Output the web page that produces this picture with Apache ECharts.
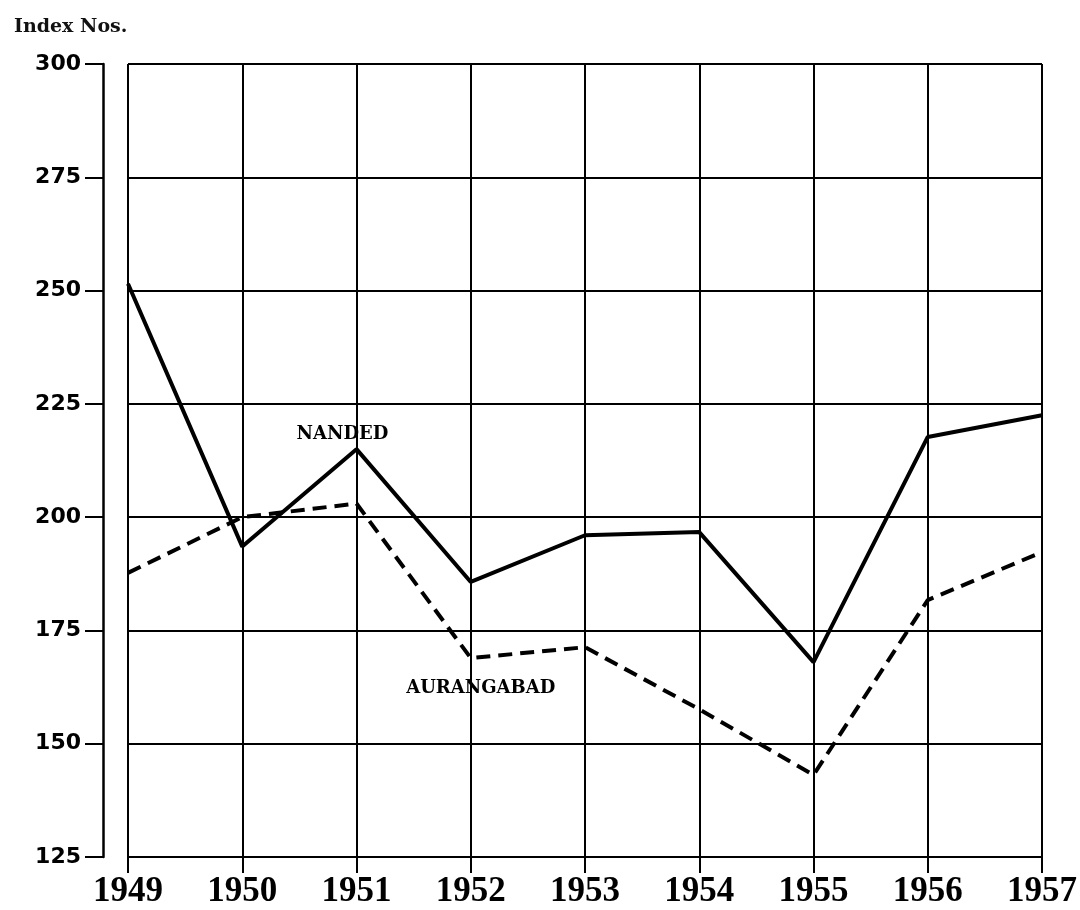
<!DOCTYPE html>
<html>
<head>
<meta charset="utf-8">
<script src="https://cdn.jsdelivr.net/npm/echarts@6/dist/echarts.min.js"></script>
<style>
  html, body { margin: 0; padding: 0; background: #fff; }
  #main { width: 1080px; height: 910px; }
</style>
</head>
<body>
<div id="main"></div>
<script>
var chartDom = document.getElementById('main');
var myChart = echarts.init(chartDom);

// data
const years = ['1949', '1950', '1951', '1952', '1953', '1954', '1955', '1956', '1957'];
const nanded = [251.5, 193.5, 215, 185.7, 196, 196.7, 168, 217.7, 222.5];
const aurangabad = [187.7, 200, 203, 168.9, 171.3, 157.6, 143.1, 181.7, 192.3];
const yTicks = [125, 150, 175, 200, 225, 250, 275, 300];

var option = {
    backgroundColor: '#fff',
    animation: false,
    title: {
        text: 'Index Nos.',
        left: 9,
        top: 13,
        textStyle: {
            fontFamily: 'DejaVu Serif',
            fontSize: 19,
            fontWeight: 'bold',
            color: '#111'
        }
    },
    grid: {
        left: 128,
        right: 38,
        top: 64,
        bottom: 53
    },
    xAxis: {
        type: 'category',
        data: years,
        boundaryGap: false,
        axisLine: { show: true, lineStyle: { color: '#000', width: 2 } },
        axisTick: { show: true, length: 16, alignWithLabel: true, lineStyle: { color: '#000', width: 2 } },
        axisLabel: {
            margin: 17,
            fontFamily: 'Liberation Serif',
            fontWeight: 'bold',
            fontSize: 35,
            color: '#000'
        },
        splitLine: { show: true, lineStyle: { color: '#000', width: 2 } }
    },
    yAxis: {
        type: 'value',
        min: yTicks[0],
        max: yTicks[yTicks.length - 1],
        interval: 25,
        offset: 25,
        axisLine: { show: true, lineStyle: { color: '#000', width: 2.5 } },
        axisTick: { show: true, inside: false, length: 18, lineStyle: { color: '#000', width: 2 } },
        axisLabel: {
            margin: 22,
            fontFamily: 'DejaVu Sans',
            fontWeight: 'bold',
            fontSize: 22,
            color: '#000'
        },
        splitLine: { show: true, lineStyle: { color: '#000', width: 2 } }
    },
    series: [
        {
            name: 'NANDED',
            type: 'line',
            data: nanded,
            symbol: 'none',
            lineStyle: { color: '#000', width: 4 },
            z: 5,
            markPoint: {
                symbol: 'circle',
                symbolSize: 0,
                data: [{ coord: ['1951', 218.3] }],
                label: {
                    show: true,
                    formatter: 'NANDED',
                    offset: [-14, 0],
                    fontFamily: 'DejaVu Serif',
                    fontWeight: 'bold',
                    fontSize: 18,
                    color: '#000'
                }
            }
        },
        {
            name: 'AURANGABAD',
            type: 'line',
            data: aurangabad,
            symbol: 'none',
            lineStyle: { color: '#000', width: 4, type: [14, 8] },
            z: 5,
            markPoint: {
                symbol: 'circle',
                symbolSize: 0,
                data: [{ coord: ['1952', 162.3] }],
                label: {
                    show: true,
                    formatter: 'AURANGABAD',
                    offset: [10, 0],
                    fontFamily: 'DejaVu Serif',
                    fontWeight: 'bold',
                    fontSize: 18,
                    color: '#000'
                }
            }
        }
    ]
};

option && myChart.setOption(option);
</script>
</body>
</html>
